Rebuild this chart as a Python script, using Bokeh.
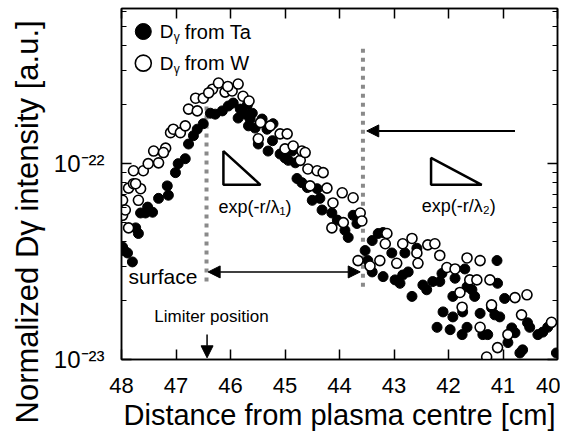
import math
from bokeh.plotting import figure
from bokeh.models import (Range1d, LogAxis, LinearAxis, FixedTicker, CustomJSTickFormatter,
                          Label, Arrow, NormalHead, Title)
from bokeh.embed import file_html
from bokeh.resources import INLINE
from bokeh.core.properties import value

FONT = "Liberation Sans"

# ---- data: D_gamma from Ta (filled) ----
ta_x = [47.98, 47.89, 47.80, 47.95, 47.74, 47.69, 47.65, 47.56, 47.52, 47.43,
        47.32, 47.16, 47.14, 47.01, 46.96, 46.83, 46.77, 46.68, 46.61, 46.50,
        46.37, 46.28, 46.15, 46.04, 45.95, 45.86, 45.73, 45.69, 45.64, 45.55,
        45.49, 45.33, 45.23, 45.22, 45.31, 45.09, 45.00, 44.94, 44.87, 44.81,
        44.78, 44.69, 44.59, 44.50, 44.41, 44.36, 44.32, 44.14, 44.04, 43.90,
        43.84, 43.75, 43.68, 43.53, 43.48, 43.40, 43.40, 43.29, 43.20, 43.20,
        43.04, 42.98, 42.89, 42.84, 42.80, 42.74, 42.67, 42.58, 42.47, 42.40,
        42.29, 42.21, 42.16, 42.12, 42.10, 41.97, 41.92, 41.92, 41.88, 41.75,
        41.74, 41.70, 41.66, 41.66, 41.57, 41.52, 41.42, 41.37, 41.28, 41.21,
        41.15, 41.11, 41.10, 41.06, 40.97, 40.91, 40.84, 40.78, 40.69, 40.64,
        40.55, 40.51, 40.36, 40.27, 40.18, 40.11, 40.02, 45.82, 45.60, 45.42,
        45.67]
ta_y = [3.75e-23, 3.5e-23, 3.15e-23, 3.6e-23, 4.7e-23, 4.4e-23, 5.6e-23, 5.6e-23, 6.0e-23, 5.65e-23,
        6.65e-23, 7.7e-23, 6.9e-23, 9.0e-23, 1.0e-22, 1.06e-22, 1.26e-22, 1.39e-22, 1.5e-22, 1.6e-22,
        1.81e-22, 1.79e-22, 1.86e-22, 1.97e-22, 2.04e-22, 1.71e-22, 1.79e-22, 2.0e-22, 1.69e-22, 1.52e-22,
        1.26e-22, 1.5e-22, 1.31e-22, 1.6e-22, 1.16e-22, 1.12e-22, 1.07e-22, 1.04e-22, 1.16e-22, 1.01e-22,
        8.4e-23, 8.0e-23, 7.55e-23, 6.5e-23, 7.45e-23, 6.65e-23, 5.8e-23, 5.6e-23, 5.15e-23, 4.57e-23,
        4.2e-23, 5.45e-23, 4.95e-23, 3.6e-23, 3.2e-23, 4.05e-23, 2.8e-23, 4.4e-23, 4.45e-23, 2.65e-23,
        3.5e-23, 2.55e-23, 2.45e-23, 2.7e-23, 3.5e-23, 2.8e-23, 2.1e-23, 3.7e-23, 2.4e-23, 2.27e-23,
        2.5e-23, 1.46e-23, 2.5e-23, 2.75e-23, 1.75e-23, 1.42e-23, 2.1e-23, 1.65e-23, 2.6e-23, 1.34e-23,
        1.75e-23, 2.9e-23, 2.35e-23, 1.46e-23, 2.27e-23, 2.1e-23, 1.72e-23, 1.34e-23, 1.34e-23, 1.84e-23,
        1.69e-23, 3.2e-23, 2.45e-23, 1.65e-23, 2.05e-23, 1.22e-23, 1.45e-23, 1.37e-23, 1.08e-23, 1.12e-23,
        1.54e-23, 1.46e-23, 1.34e-23, 1.38e-23, 1.46e-23, 1.54e-23, 1.08e-23, 1.9e-22, 1.81e-22, 1.69e-22,
        1.56e-22]

# ---- data: D_gamma from W (open) ----
w_x = [47.98, 47.98, 47.93, 47.87, 47.87, 47.78, 47.69, 47.65, 47.74, 47.60,
       47.51, 47.41, 47.32, 47.19, 47.10, 47.05, 46.92, 46.83, 46.77, 46.61,
       46.64, 46.50, 46.33, 46.22, 46.10, 45.97, 45.86, 45.77, 45.49, 45.45,
       45.27, 45.09, 45.00, 44.96, 44.85, 44.72, 44.69, 44.63, 44.58, 44.54,
       44.41, 44.30, 44.23, 44.14, 44.12, 43.95, 43.93, 43.75, 43.66, 43.62,
       43.59, 43.44, 43.26, 43.16, 43.13, 42.95, 42.84, 42.67, 42.58, 42.56,
       42.38, 42.25, 42.16, 42.03, 41.88, 41.79, 41.75, 41.66, 41.61, 41.48,
       41.42, 41.42, 41.30, 41.24, 41.21, 41.10, 40.91, 40.78, 40.66, 40.56,
       40.11, 45.66, 47.23, 47.78, 46.40, 46.05]
w_y = [6.5e-23, 5.45e-23, 5.8e-23, 4.7e-23, 7.5e-23, 7.9e-23, 6.5e-23, 7.45e-23, 7.9e-23, 9.2e-23,
       1.0e-22, 1.16e-22, 1.01e-22, 1.2e-22, 1.44e-22, 1.5e-22, 1.44e-22, 1.56e-22, 1.9e-22, 1.86e-22,
       2.16e-22, 2.16e-22, 2.4e-22, 2.58e-22, 2.32e-22, 2.35e-22, 2.55e-22, 2.21e-22, 1.34e-22, 1.62e-22,
       1.56e-22, 1.42e-22, 1.19e-22, 1.42e-22, 1.23e-22, 1.04e-22, 1.16e-22, 1.14e-22, 9.4e-23, 7.7e-23,
       9.2e-23, 9.0e-23, 7.5e-23, 4.7e-23, 6.3e-23, 7.1e-23, 5.0e-23, 6.7e-23, 3.2e-23, 5.6e-23,
       5.1e-23, 3.0e-23, 3.2e-23, 3.9e-23, 4.4e-23, 3.1e-23, 3.9e-23, 4.15e-23, 3.5e-23, 3.1e-23,
       3.85e-23, 3.9e-23, 3.4e-23, 2.95e-23, 2.9e-23, 2.2e-23, 1.85e-23, 3.3e-23, 2.55e-23, 2.55e-23,
       3.2e-23, 1.46e-23, 1.03e-23, 2.55e-23, 1.9e-23, 1.15e-23, 1.34e-23, 2.07e-23, 1.69e-23, 2.14e-23,
       1.55e-23, 2.09e-22, 1.14e-22, 9.2e-23, 2.3e-22, 2.48e-22]

x_ticks = [48, 47, 46, 45, 44, 43, 42, 41, 40]
y_major = [1e-23, 1e-22]
y_minor = [2e-23, 3e-23, 4e-23, 5e-23, 6e-23, 7e-23, 8e-23, 9e-23,
           2e-22, 3e-22, 4e-22, 5e-22, 6e-22]

surface_x = 46.44
boundary_x = 43.57

p = figure(frame_width=436, frame_height=351, x_range=Range1d(48, 40), y_range=Range1d(1e-23, 6.2e-22),
           y_axis_type="log", output_backend="svg", toolbar_location=None,
           min_border_left=121, min_border_right=3, min_border_top=8, min_border_bottom=0)
p.grid.visible = False
p.outline_line_color = "black"
p.outline_line_width = 1.5
p.background_fill_color = "white"
p.border_fill_color = "white"

yfmt = CustomJSTickFormatter(code="""
const e = Math.round(Math.log10(tick));
const sup = {'-':'\u207B','0':'\u2070','1':'\u00B9','2':'\u00B2','3':'\u00B3','4':'\u2074','5':'\u2075','6':'\u2076','7':'\u2077','8':'\u2078','9':'\u2079'};
return '10' + String(e).split('').map(c => sup[c]).join('');
""")

def style(ax, labels=True):
    ax.major_tick_in = 10
    ax.major_tick_out = 0
    ax.minor_tick_in = 5
    ax.minor_tick_out = 0
    ax.axis_line_width = 1.5
    ax.major_tick_line_width = 1.5
    ax.minor_tick_line_width = 1.2
    ax.axis_line_color = "black"
    ax.major_tick_line_color = "black"
    ax.minor_tick_line_color = "black"
    ax.major_label_text_font = FONT
    ax.major_label_text_color = "black"
    if not labels:
        ax.major_label_text_font_size = "1px"
        ax.major_label_text_color = None
        ax.major_label_standoff = 0

xb = p.xaxis[0]
xb.ticker = FixedTicker(ticks=x_ticks)
style(xb)
xb.minor_tick_line_color = None
xb.major_label_text_font_size = "22px"
xb.major_label_standoff = 18
xb.axis_label = "Distance from plasma centre [cm]"
xb.axis_label_text_font = FONT
xb.axis_label_text_font_size = "29px"
xb.axis_label_text_font_style = "normal"
xb.axis_label_text_color = "black"
xb.axis_label_standoff = 3

yl = p.yaxis[0]
yl.ticker = FixedTicker(ticks=y_major, minor_ticks=y_minor)
yl.formatter = yfmt
style(yl)
yl.major_label_text_font_size = "24px"
yl.major_label_standoff = 17

xt = LinearAxis(ticker=FixedTicker(ticks=x_ticks))
style(xt, labels=False)
xt.minor_tick_line_color = None
p.add_layout(xt, "above")

yr = LogAxis(ticker=FixedTicker(ticks=y_major, minor_ticks=y_minor))
style(yr, labels=False)
p.add_layout(yr, "right")

# y-axis title as a left-side title, shifted downwards along the axis
p.add_layout(Title(text="Normalized D\u03b3 intensity [a.u.]", align="left", offset=-64,
                   text_font=FONT, text_font_size="31px", text_font_style="normal",
                   text_color="black", standoff=12), "left")

# dotted vertical lines
p.segment(x0=[surface_x, boundary_x], y0=[2.5e-23, 2.35e-23], x1=[surface_x, boundary_x],
          y1=[2.55e-22, 4.06e-22], line_color="#8a8a8a", line_width=4, line_dash="4 5")

# data
p.scatter(ta_x, ta_y, marker="circle", size=10, fill_color="black", line_color="black")
p.scatter(w_x, w_y, marker="circle", size=10, fill_color="white", line_color="black", line_width=1.6)

# triangles
p.patch([46.13, 46.13, 45.45], [1.16e-22, 7.8e-23, 7.8e-23], fill_color="white",
        line_color="black", line_width=2.5)
p.patch([42.32, 42.32, 41.39], [1.07e-22, 7.8e-23, 7.8e-23], fill_color="white",
        line_color="black", line_width=2.5)

def head():
    return NormalHead(size=12, fill_color="black", line_color="black", line_width=1)

p.add_layout(Arrow(x_start=40.78, y_start=1.47e-22, x_end=43.50, y_end=1.47e-22,
                   end=head(), line_width=2, line_color="black"))
p.add_layout(Arrow(x_start=46.41, y_start=2.8e-23, x_end=43.62, y_end=2.8e-23,
                   start=head(), end=head(), line_width=1.5, line_color="black"))
p.add_layout(Arrow(x_start=46.43, y_start=1.34e-23, x_end=46.43, y_end=1.02e-23,
                   end=head(), line_width=1.5, line_color="black"))

def lab(x, y, text, size, align="left", baseline="middle"):
    p.add_layout(Label(x=x, y=y, text=text, text_font=FONT, text_font_size=size,
                       text_align=align, text_baseline=baseline, text_color="black"))

lab(46.22, 6.0e-23, "exp(-r/\u03bb\u2081)", "18px")
lab(42.49, 6.1e-23, "exp(-r/\u03bb\u2082)", "18px")
lab(47.87, 2.64e-23, "surface", "21px")
lab(46.35, 1.65e-23, "Limiter position", "17px", align="center")

# legend (manual)
p.scatter([47.60], [4.73e-22], marker="circle", size=16, fill_color="black", line_color="black")
p.scatter([47.60], [3.26e-22], marker="circle", size=16, fill_color="white", line_color="black",
          line_width=1.6)
for yv, ys, t in [(4.73e-22, 4.41e-22, "from Ta"), (3.26e-22, 3.04e-22, "from W")]:
    lab(47.30, yv, "D", "19px")
    p.add_layout(Label(x=47.30, y=ys, x_offset=14, text="\u03b3", text_font=FONT,
                       text_font_size="12px", text_baseline="middle", text_color="black"))
    p.add_layout(Label(x=47.30, y=yv, x_offset=25, text=t, text_font=FONT,
                       text_font_size="20px", text_baseline="middle", text_color="black"))

open("out.html", "w").write(file_html(p, INLINE))
